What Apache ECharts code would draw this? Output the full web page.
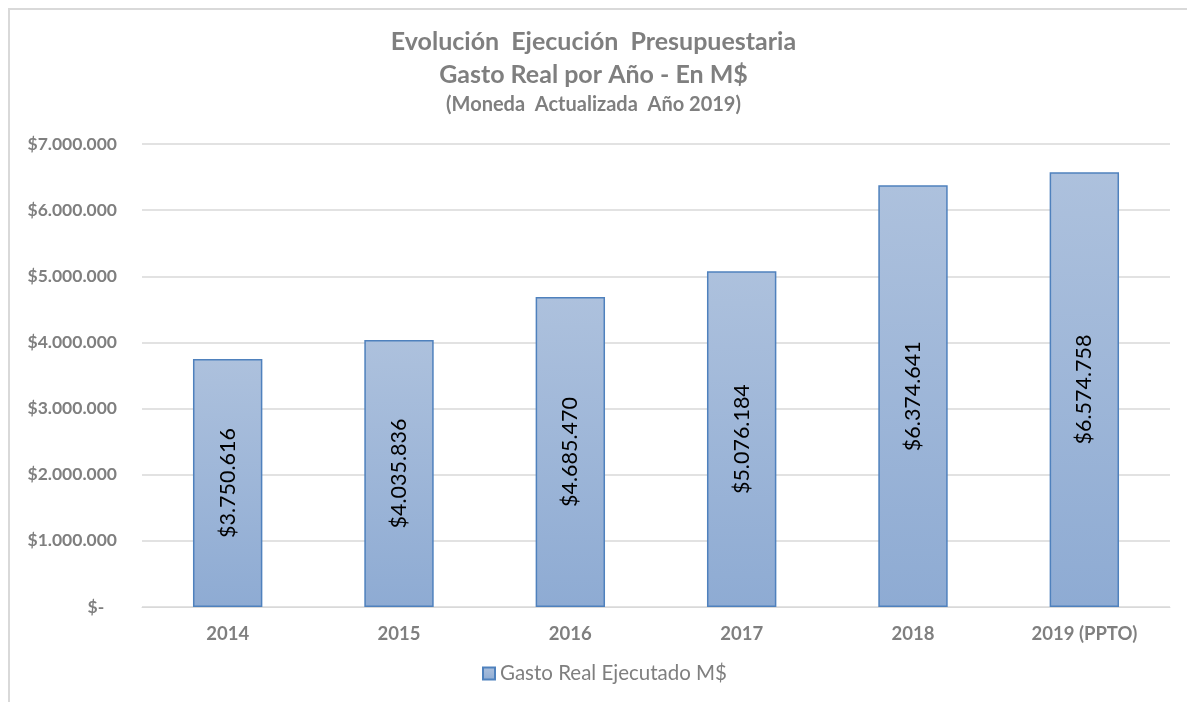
<!DOCTYPE html>
<html>
<head>
<meta charset="utf-8">
<script src="https://cdn.jsdelivr.net/npm/echarts@6/dist/echarts.min.js"></script>
<style>
  html, body { margin: 0; padding: 0; background: #fff; }
  #main { width: 1187px; height: 702px; }
</style>
</head>
<body>
<div id="main"></div>
<script>
// datos del gráfico
var years = ['2014', '2015', '2016', '2017', '2018', '2019 (PPTO)'];
var gastoReal = [3750616, 4035836, 4685470, 5076184, 6374641, 6574758];
var seriesName = 'Gasto Real Ejecutado M$';
var titleLines = ['Evolución  Ejecución  Presupuestaria', 'Gasto Real por Año - En M$'];
var subTitle = '(Moneda  Actualizada  Año 2019)';

// formato con separador de miles "."
function fmt(v) {
  return '$' + String(Math.round(v)).replace(/\B(?=(\d{3})+(?!\d))/g, '.');
}

var chart = echarts.init(document.getElementById('main'));

var option = {
  animation: false,
  textStyle: { fontFamily: 'Lato, "Open Sans", sans-serif' },
  title: {
    text: titleLines.join('\n'),
    subtext: subTitle,
    left: 'center',
    top: 20,
    itemGap: 3,
    textStyle: {
      fontSize: 25,
      fontWeight: 'bold',
      color: '#7f7f7f',
      lineHeight: 33
    },
    subtextStyle: {
      fontSize: 20,
      fontWeight: 'bold',
      color: '#7f7f7f',
      lineHeight: 22
    }
  },
  graphic: [
    {
      type: 'polyline',
      silent: true,
      shape: { points: [[9, 702], [9, 9], [1187, 9]] },
      style: { stroke: '#d9d9d9', lineWidth: 2, fill: null }
    }
  ],
  legend: {
    data: [seriesName],
    bottom: 13,
    left: 477,
    icon: 'rect',
    itemWidth: 12,
    itemHeight: 12,
    itemGap: 6,
    textStyle: { fontSize: 20.5, color: '#7f7f7f' }
  },
  grid: {
    left: 142,
    right: 17,
    top: 144,
    bottom: 95
  },
  xAxis: {
    type: 'category',
    data: years,
    axisLine: { lineStyle: { color: '#d9d9d9', width: 1 } },
    axisTick: { show: false },
    axisLabel: {
      color: '#7f7f7f',
      fontSize: 18.5,
      fontWeight: 'bold',
      margin: 18
    }
  },
  yAxis: {
    type: 'value',
    min: 0,
    max: 7000000,
    interval: 1000000,
    axisLine: { show: false },
    axisTick: { show: false },
    splitLine: { lineStyle: { color: '#d9d9d9', width: 1.5 } },
    axisLabel: {
      color: '#7f7f7f',
      fontSize: 17.5,
      fontWeight: 'bold',
      margin: 25,
      formatter: function (v) {
        return v === 0 ? '$-   ' : fmt(v);
      }
    }
  },
  series: [
    {
      name: seriesName,
      type: 'bar',
      data: gastoReal,
      barWidth: '40.5%',
      itemStyle: {
        borderColor: '#4f81bd',
        borderWidth: 1.5,
        color: new echarts.graphic.LinearGradient(0, 0, 0, 1, [
          { offset: 0, color: '#adc1dd' },
          { offset: 1, color: '#8eabd3' }
        ])
      },
      label: {
        show: true,
        position: 'inside',
        rotate: 90,
        color: '#000',
        fontSize: 21.5,
        formatter: function (p) { return fmt(p.value); }
      }
    }
  ]
};

chart.setOption(option);
</script>
</body>
</html>
